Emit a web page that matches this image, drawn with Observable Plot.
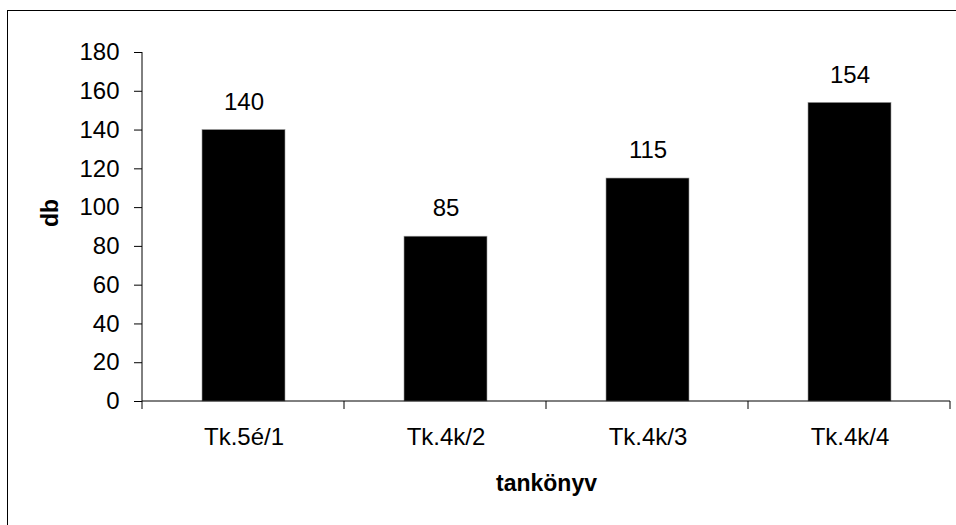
<!DOCTYPE html>
<html>
<head>
<meta charset="utf-8">
<script src="https://cdn.jsdelivr.net/npm/d3@7"></script>
<script src="https://cdn.jsdelivr.net/npm/@observablehq/plot@0.6"></script>
<style>
  html, body { margin: 0; padding: 0; background: #fff; overflow: hidden; }
  #wrap { position: relative; width: 956px; height: 525px; }
  #frame { position: absolute; left: 7px; top: 10px; width: 2000px; height: 2000px;
           border-top: 1px solid #000; border-left: 1px solid #000; pointer-events: none; }
  #chart { position: absolute; left: 0; top: 0; }
</style>
</head>
<body>
<div id="wrap">
  <div id="frame"></div>
  <div id="chart"></div>
</div>
<script>
const categories = ["Tk.5é/1", "Tk.4k/2", "Tk.4k/3", "Tk.4k/4"];
const values = [140, 85, 115, 154];
const yTicks = [0, 20, 40, 60, 80, 100, 120, 140, 160, 180];
const xTitle = "tankönyv";
const yTitle = "db";

const data = categories.map((c, i) => ({cat: c, value: values[i]}));
const font = "'Liberation Sans', Arial, sans-serif";
const fs = 24;
const fsTitle = 23;

const axisLines = (index, scales, values, dims) => {
  const g = d3.create("svg:g");
  const n = categories.length;
  const x0 = dims.marginLeft, x1 = dims.width - dims.marginRight;
  const step = (x1 - x0) / n;
  const y0 = dims.height - dims.marginBottom;
  const yTop = dims.marginTop;
  for (let i = 0; i <= n; i++) {
    const x = x0 + i * step;
    g.append("line").attr("x1", x).attr("x2", x).attr("y1", y0).attr("y2", y0 + 8)
      .attr("stroke", "#000").attr("stroke-width", 1);
  }
  g.append("line").attr("x1", x0).attr("x2", x1).attr("y1", y0).attr("y2", y0)
    .attr("stroke", "#000").attr("stroke-width", 1);
  g.append("line").attr("x1", x0).attr("x2", x0).attr("y1", yTop).attr("y2", y0)
    .attr("stroke", "#000").attr("stroke-width", 1);
  return g.node();
};

const chart = Plot.plot({
  width: 956,
  height: 525,
  marginLeft: 142,
  marginRight: 6,
  marginTop: 52,
  marginBottom: 124,
  style: {fontFamily: font, fontSize: fs + "px", background: "transparent", color: "#000"},
  x: {domain: categories, paddingInner: 0.59, paddingOuter: 0.295, label: null},
  y: {domain: [0, 180], label: null},
  marks: [
    Plot.barY(data, {x: "cat", y: "value", fill: "#000", stroke: "#999", strokeWidth: 0.6}),
    Plot.text(data, {x: "cat", y: "value", text: d => String(d.value), dy: -28, fontSize: fs, fill: "#000"}),
    Plot.axisY({ticks: yTicks, tickSize: 8, tickPadding: 15, fontSize: fs, label: null, stroke: "#000"}),
    Plot.axisX({tickSize: 0, tickPadding: 26, fontSize: fs, label: null}),
    axisLines,
    Plot.text([yTitle], {frameAnchor: "left", dx: -92, rotate: -90, fontWeight: "bold", fontSize: fsTitle, fill: "#000"}),
    Plot.text([xTitle], {frameAnchor: "bottom", dy: 89, fontWeight: "bold", fontSize: fsTitle, fill: "#000"})
  ]
});
document.getElementById("chart").appendChild(chart);
</script>
</body>
</html>
